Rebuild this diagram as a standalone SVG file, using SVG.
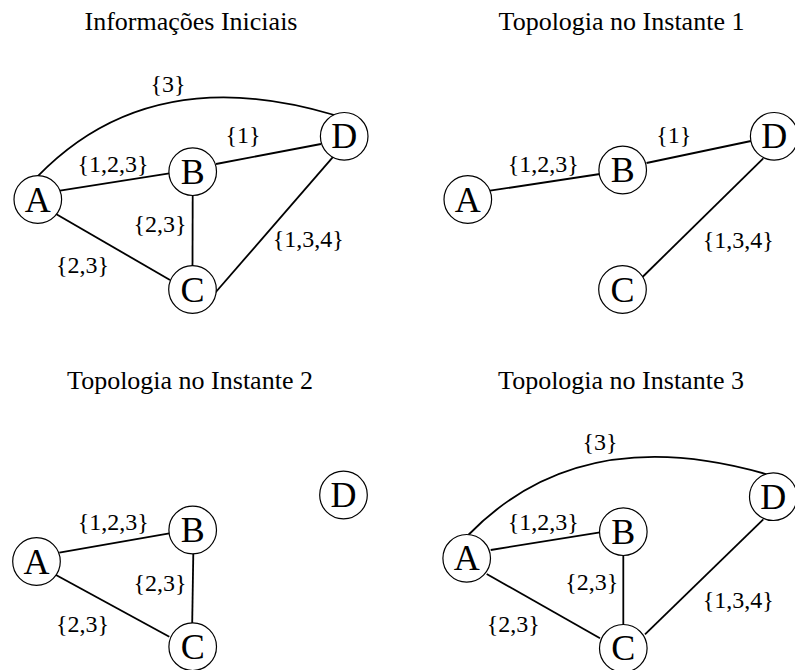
<svg xmlns="http://www.w3.org/2000/svg" width="795" height="670" viewBox="0 0 795 670" font-family="'Liberation Serif', 'Times New Roman', serif">
<style>
.title{font-family:'Liberation Serif','Times New Roman',serif;font-size:26px;text-anchor:middle;fill:#000}
.lbl{font-family:'Liberation Serif','Times New Roman',serif;font-size:24px;text-anchor:middle;fill:#000}
.nl{font-family:'Liberation Serif','Times New Roman',serif;font-size:36px;text-anchor:middle;fill:#000}
.node circle{fill:#fff;stroke:#000;stroke-width:1.2}
.edge{stroke:#000;stroke-width:1.8;fill:none}
</style>
<rect width="795" height="670" fill="#fff"/>
<text class="title" x="191" y="30">Informações Iniciais</text>
<text class="title" x="621.5" y="30">Topologia no Instante 1</text>
<text class="title" x="190" y="389">Topologia no Instante 2</text>
<text class="title" x="621" y="389">Topologia no Instante 3</text>

<g id="panel-initial">
  <g id="p0-edges">
    <path class="edge" d="M37.3,176.7 Q150,60 334.3,115"/>
    <line class="edge" x1="60" y1="190.7" x2="169.3" y2="173.3"/>
    <line class="edge" x1="216" y1="164" x2="321" y2="144"/>
    <line class="edge" x1="192.7" y1="195.5" x2="192.5" y2="265.7"/>
    <line class="edge" x1="56" y1="214" x2="170" y2="280"/>
    <line class="edge" x1="215" y1="293" x2="333.3" y2="156.7"/>
    <text class="lbl" x="168" y="91.5">{3}</text>
    <text class="lbl" x="113" y="171.7">{1,2,3}</text>
    <text class="lbl" x="243" y="143.3">{1}</text>
    <text class="lbl" x="160" y="231.7">{2,3}</text>
    <text class="lbl" x="308.3" y="247.3">{1,3,4}</text>
    <text class="lbl" x="82.5" y="273.3">{2,3}</text>
  </g>
  <g id="p0-A" class="node"><circle cx="37.8" cy="199.5" r="23.8"/><text class="nl" x="37.8" y="211.5">A</text></g>
  <g id="p0-B" class="node"><circle cx="192.7" cy="171.7" r="23.8"/><text class="nl" x="192.7" y="183.7">B</text></g>
  <g id="p0-C" class="node"><circle cx="192.5" cy="289.5" r="23.8"/><text class="nl" x="192.5" y="301.5">C</text></g>
  <g id="p0-D" class="node"><circle cx="344.2" cy="136.3" r="23.8"/><text class="nl" x="344.2" y="148.3">D</text></g>
</g>

<g id="panel-t1" transform="translate(430,0)">
  <g id="p1-edges">
    <line class="edge" x1="60" y1="190.7" x2="170" y2="174"/>
    <line class="edge" x1="216.5" y1="163" x2="321" y2="141"/>
    <line class="edge" x1="212" y1="277.5" x2="333.3" y2="158.3"/>
    <text class="lbl" x="113.3" y="171.7">{1,2,3}</text>
    <text class="lbl" x="243.7" y="143.3">{1}</text>
    <text class="lbl" x="308.3" y="248.3">{1,3,4}</text>
  </g>
  <g id="p1-A" class="node"><circle cx="37.8" cy="199.5" r="23.8"/><text class="nl" x="37.8" y="211.5">A</text></g>
  <g id="p1-B" class="node"><circle cx="192.7" cy="170" r="23.8"/><text class="nl" x="192.7" y="182">B</text></g>
  <g id="p1-C" class="node"><circle cx="192.5" cy="289.5" r="23.8"/><text class="nl" x="192.5" y="301.5">C</text></g>
  <g id="p1-D" class="node"><circle cx="344.2" cy="136.3" r="23.8"/><text class="nl" x="344.2" y="148.3">D</text></g>
</g>

<g id="panel-t2" transform="translate(0,358)">
  <g id="p2-edges">
    <line class="edge" x1="59.3" y1="194.7" x2="169.3" y2="175.3"/>
    <line class="edge" x1="56" y1="217" x2="169.3" y2="278.7"/>
    <line class="edge" x1="193.3" y1="195.5" x2="192.2" y2="265.3"/>
    <text class="lbl" x="113.3" y="172">{1,2,3}</text>
    <text class="lbl" x="160" y="232.7">{2,3}</text>
    <text class="lbl" x="82.5" y="273.7">{2,3}</text>
  </g>
  <g id="p2-A" class="node"><circle cx="36.5" cy="203.5" r="23.8"/><text class="nl" x="36.5" y="215.5">A</text></g>
  <g id="p2-B" class="node"><circle cx="192.7" cy="172" r="23.8"/><text class="nl" x="192.7" y="184">B</text></g>
  <g id="p2-C" class="node"><circle cx="192.7" cy="288.7" r="23.8"/><text class="nl" x="192.7" y="300.7">C</text></g>
  <g id="p2-D" class="node"><circle cx="343.5" cy="137" r="23.8"/><text class="nl" x="343.5" y="149">D</text></g>
</g>

<g id="panel-t3" transform="translate(430,360)">
  <g id="p3-edges">
    <path class="edge" d="M38.3,175 Q150,60 336.7,114.3"/>
    <line class="edge" x1="60.7" y1="190" x2="170" y2="172.3"/>
    <line class="edge" x1="56.7" y1="214" x2="170" y2="278.3"/>
    <line class="edge" x1="193.3" y1="195.5" x2="193.3" y2="264.5"/>
    <line class="edge" x1="215" y1="274.3" x2="333.3" y2="159.3"/>
    <text class="lbl" x="170" y="90">{3}</text>
    <text class="lbl" x="113.3" y="170">{1,2,3}</text>
    <text class="lbl" x="161.7" y="230">{2,3}</text>
    <text class="lbl" x="308.3" y="248.3">{1,3,4}</text>
    <text class="lbl" x="83.3" y="271.7">{2,3}</text>
  </g>
  <g id="p3-A" class="node"><circle cx="36.7" cy="198.3" r="23.8"/><text class="nl" x="36.7" y="210.3">A</text></g>
  <g id="p3-B" class="node"><circle cx="193.3" cy="171.7" r="23.8"/><text class="nl" x="193.3" y="183.7">B</text></g>
  <g id="p3-C" class="node"><circle cx="193.3" cy="288.3" r="23.8"/><text class="nl" x="193.3" y="300.3">C</text></g>
  <g id="p3-D" class="node"><circle cx="343.3" cy="136.7" r="23.8"/><text class="nl" x="343.3" y="148.7">D</text></g>
</g>
</svg>
